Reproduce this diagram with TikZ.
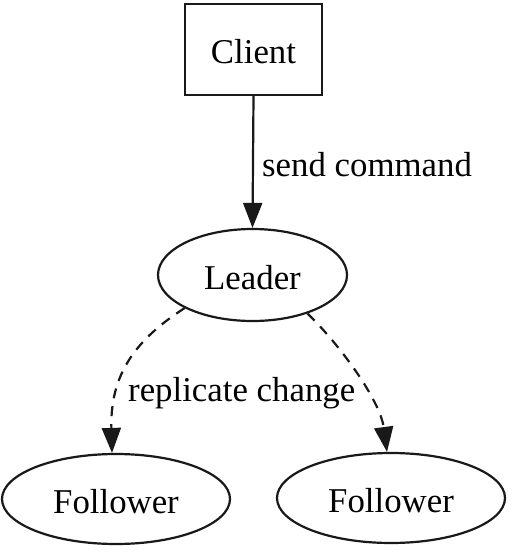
\documentclass[tikz,border=0pt]{standalone}
\usepackage{fontspec}
\setmainfont{Liberation Serif}
\usetikzlibrary{shapes.geometric,arrows.meta}
\begin{document}
\begin{tikzpicture}[x=1pt,y=-1pt,
  every node/.style={font=\fontsize{34.8}{40}\selectfont, text=black},
  shp/.style={draw=black!90, line width=2.2pt, inner sep=0pt, text height=28pt, text depth=0pt},
  boxnode/.style={shp, rectangle, minimum width=137pt, minimum height=91pt},
  ellnode/.style={shp, ellipse},
  lbl/.style={inner sep=0pt, anchor=base west},
  edge/.style={draw=black!90, line width=2.2pt, -{Triangle[length=25pt,width=19pt]}},
  dashedge/.style={edge, dash pattern=on 10pt off 8pt}
]
\useasboundingbox (0,0) rectangle (516,556);
\node[boxnode] (client) at (253.5,49.5) {Client};
\node[ellnode, minimum width=189pt, minimum height=92pt] (leader) at (252.5,275) {Leader};
\node[ellnode, minimum width=228pt, minimum height=90pt] (f1) at (116,499) {Follower};
\node[ellnode, minimum width=228pt, minimum height=90pt] (f2) at (391,498) {Follower};
\draw[edge] (client.south) -- (leader.north);
\node[lbl] (l1) at (262,176) {send command};
\draw[dashedge] (leader.206) .. controls (135,340) and (110,375) .. ([xshift=-4pt]f1.north);
\draw[dashedge] (leader.325) .. controls (340,345) and (380,400) .. ([xshift=-4pt]f2.north);
\node[lbl] (l2) at (128,401) {replicate change};
\end{tikzpicture}
\end{document}
